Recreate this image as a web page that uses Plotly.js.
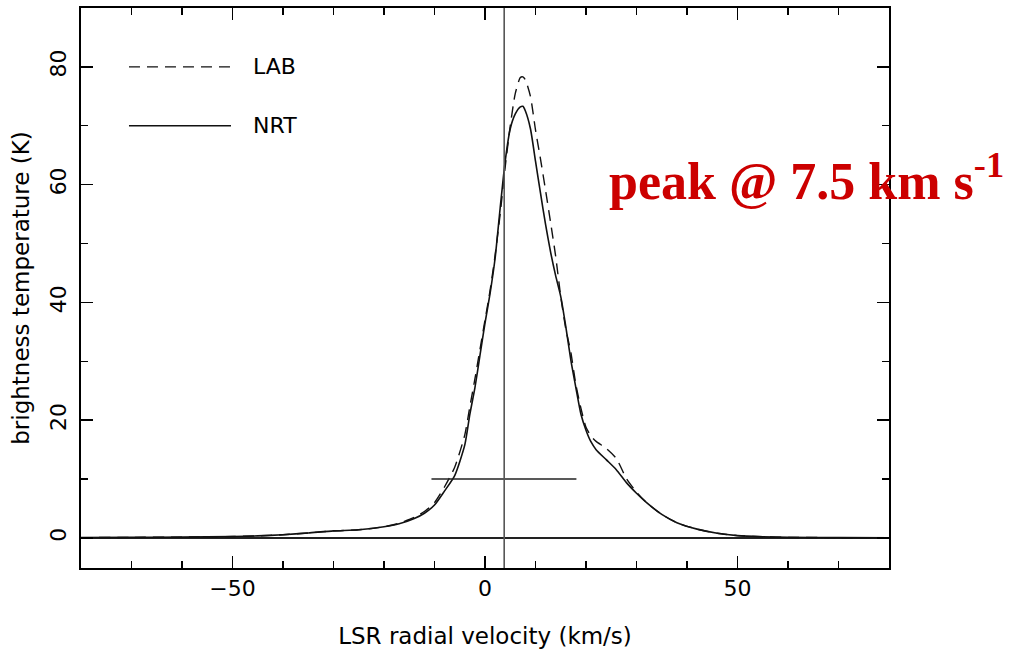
<!DOCTYPE html>
<html>
<head>
<meta charset="utf-8">
<script src="https://cdn.plot.ly/plotly-3.0.1.min.js"></script>
<style>html,body{margin:0;padding:0;background:#fff;}#chart{width:1011px;height:651px;}</style>
</head>
<body>
<div id="chart"></div>
<script>
// LSR radial velocity (km/s)
const velocity = [-80, -70, -60, -50, -45, -40, -35, -30, -25, -20, -17, -14, -12, -10, -8, -6, -4, -3, -2, -1, 0, 1, 2, 3, 4, 5, 6, 7, 7.5, 8, 9, 10, 11, 12, 13, 14, 15, 16, 17, 18, 19, 20, 21, 22, 24, 26, 28, 30, 32, 35, 38, 42, 46, 50, 55, 60, 70, 80];
// brightness temperature (K)
const nrtTemp = [0.05, 0.1, 0.15, 0.25, 0.35, 0.55, 0.85, 1.2, 1.4, 1.9, 2.4, 3.3, 4.2, 5.6, 8.0, 10.6, 15.8, 21.0, 25.5, 31.0, 36.5, 41.5, 47.5, 56.0, 64.0, 69.5, 72.0, 73.2, 73.3, 72.5, 69.5, 64.0, 58.5, 53.2, 48.5, 44.5, 41.0, 35.9, 30.2, 25.5, 21.0, 18.3, 16.3, 15.0, 13.3, 11.6, 9.4, 7.6, 6.0, 4.0, 2.6, 1.5, 0.8, 0.4, 0.2, 0.1, 0.05, 0.02];
const labTemp = [0.05, 0.1, 0.15, 0.25, 0.35, 0.55, 0.85, 1.2, 1.4, 1.9, 2.5, 3.5, 4.5, 6.0, 8.7, 12.0, 17.5, 22.3, 27.0, 32.0, 37.0, 42.0, 48.0, 55.0, 63.0, 70.0, 75.5, 78.2, 78.3, 77.8, 75.0, 69.3, 64.3, 59.0, 53.5, 47.8, 41.0, 35.5, 31.5, 26.0, 22.0, 18.8, 17.3, 16.4, 15.2, 13.5, 10.1, 7.8, 6.0, 4.0, 2.6, 1.5, 0.8, 0.4, 0.2, 0.1, 0.05, 0.02];
const seriesNames = ["LAB", "NRT"];
// reference markers
const refVelocity = 3.8;
const widthBarX = [-10.6, 18.1];
const widthBarY = [10, 10];
const xTicks = [-50, 0, 50];
const xTickText = ["\u221250", "0", "50"];
const yTicks = [0, 20, 40, 60, 80];
const peakLabel = "peak @ 7.5 km s<sup>-1</sup>";

const font = "DejaVu Sans, sans-serif";

const traces = [
  {x: velocity, y: labTemp, type: "scatter", mode: "lines", name: seriesNames[0],
   line: {color: "#111", width: 1.4, dash: "11px,7px", shape: "spline", smoothing: 0.6}, hoverinfo: "skip"},
  {x: velocity, y: nrtTemp, type: "scatter", mode: "lines", name: seriesNames[1],
   line: {color: "#111", width: 1.6, shape: "spline", smoothing: 0.6}, hoverinfo: "skip"},
  {x: widthBarX, y: widthBarY, type: "scatter", mode: "lines",
   line: {color: "#222", width: 1.5}, hoverinfo: "skip"}
];

const layout = {
  width: 1011, height: 651,
  margin: {l: 81, r: 122, t: 8, b: 83},
  paper_bgcolor: "#fff", plot_bgcolor: "#fff",
  showlegend: false,
  font: {family: font, color: "#000", size: 22},
  xaxis: {
    range: [-80, 80], showgrid: false, zeroline: false,
    showline: true, linecolor: "#000", linewidth: 2, mirror: "ticks",
    ticks: "inside", ticklen: 12, tickwidth: 1.6, tickcolor: "#000",
    tickvals: xTicks, ticktext: xTickText,
    minor: {dtick: 10, tick0: 0, ticks: "inside", ticklen: 7, tickwidth: 1.4, tickcolor: "#000", showgrid: false},
    tickfont: {family: font, size: 22},
    title: {text: "LSR radial velocity (km/s)", font: {family: font, size: 23}, standoff: 27}
  },
  yaxis: {
    range: [-5.1, 90], showgrid: false,
    zeroline: true, zerolinecolor: "#222", zerolinewidth: 1.5,
    showline: true, linecolor: "#000", linewidth: 2, mirror: "ticks",
    ticks: "inside", ticklen: 12, tickwidth: 1.6, tickcolor: "#000",
    tickvals: yTicks, tickangle: -90, ticklabelstandoff: 4,
    minor: {dtick: 10, tick0: 0, ticks: "inside", ticklen: 7, tickwidth: 1.4, tickcolor: "#000", showgrid: false},
    tickfont: {family: font, size: 22},
    title: {text: "brightness temperature (K)", font: {family: font, size: 23}, standoff: 10}
  },
  shapes: [
    {type: "line", xref: "x", yref: "paper", x0: refVelocity, x1: refVelocity, y0: 0, y1: 1,
     line: {color: "#555", width: 1.6}},
    {type: "line", xref: "x", yref: "y", x0: -70.5, x1: -50.3, y0: 80, y1: 80,
     line: {color: "#111", width: 1.4, dash: "11px,7px"}},
    {type: "line", xref: "x", yref: "y", x0: -70.5, x1: -50.3, y0: 70, y1: 70,
     line: {color: "#111", width: 1.6}}
  ],
  annotations: [
    {xref: "x", yref: "y", x: -46.3, y: 80, xanchor: "left", yanchor: "middle", showarrow: false,
     text: seriesNames[0], font: {family: font, size: 22, color: "#000"}},
    {xref: "x", yref: "y", x: -46.3, y: 70, xanchor: "left", yanchor: "middle", showarrow: false,
     text: seriesNames[1], font: {family: font, size: 22, color: "#000"}},
    {xref: "paper", yref: "paper", x: 0.651, y: 0.697, xanchor: "left", yanchor: "middle", showarrow: false,
     text: "<b>" + peakLabel + "</b>", font: {family: "Liberation Serif, serif", size: 52, color: "#cc0000"}}
  ]
};

Plotly.newPlot("chart", traces, layout, {staticPlot: true, displayModeBar: false});
</script>
</body>
</html>
